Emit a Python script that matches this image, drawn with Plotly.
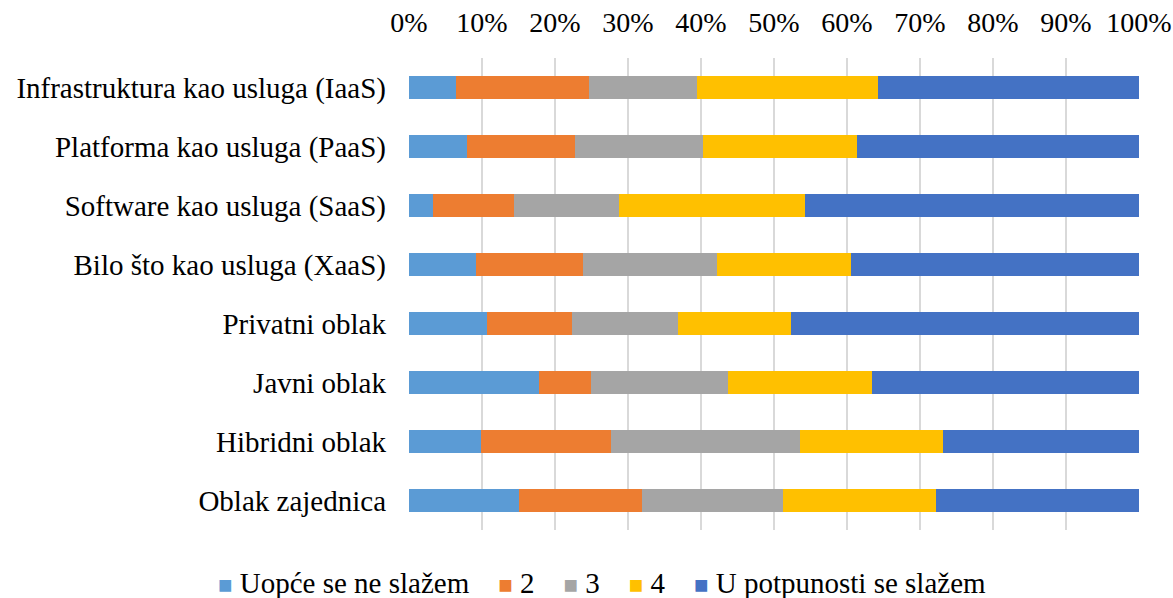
import plotly.graph_objects as go

# Cloud service / deployment models (top to bottom)
categories = [
    "Infrastruktura kao usluga (IaaS)",
    "Platforma kao usluga (PaaS)",
    "Software kao usluga (SaaS)",
    "Bilo što kao usluga (XaaS)",
    "Privatni oblak",
    "Javni oblak",
    "Hibridni oblak",
    "Oblak zajednica",
]

# Share of responses per agreement level (percent)
uopce_se_ne_slazem = [6.4, 7.9, 3.3, 9.2, 10.7, 17.8, 9.8, 15.1]
ocjena_2 = [18.3, 14.8, 11.1, 14.6, 11.6, 7.1, 17.9, 16.8]
ocjena_3 = [14.7, 17.6, 14.4, 18.4, 14.5, 18.8, 25.9, 19.3]
ocjena_4 = [24.8, 21.1, 25.4, 18.3, 15.5, 19.7, 19.6, 21.0]
u_potpunosti_se_slazem = [35.8, 38.6, 45.8, 39.5, 47.7, 36.6, 26.8, 27.8]

series_names = ["Uopće se ne slažem", "2", "3", "4", "U potpunosti se slažem"]
series_values = [uopce_se_ne_slazem, ocjena_2, ocjena_3, ocjena_4, u_potpunosti_se_slazem]
colors = ["#5B9BD5", "#ED7D31", "#A5A5A5", "#FFC000", "#4472C4"]

x_ticks = list(range(0, 101, 10))
x_tick_labels = [f"{t}%" for t in x_ticks]

font_family = "Liberation Serif"
legend_family = "Times New Roman, Liberation Serif, serif"

fig = go.Figure()
for name, vals, col in zip(series_names, series_values, colors):
    fig.add_trace(go.Bar(
        y=categories,
        x=vals,
        name=name,
        orientation="h",
        marker=dict(color=col, line=dict(width=0)),
        showlegend=False,
    ))

# Legend row built as one text line: coloured square + series name
gap = "\u00a0" * 4
legend_text = gap.join(
    f"<span style='color:{col};font-size:24px'>■</span>\u00a0{name}"
    for name, col in zip(series_names, colors)
)

fig.update_layout(
    template="none",
    barmode="stack",
    bargap=0.6,
    width=1173,
    height=598,
    margin=dict(l=409, r=34, t=58, b=68, autoexpand=False),
    paper_bgcolor="white",
    plot_bgcolor="white",
    font=dict(family=font_family, size=29, color="#000000"),
    xaxis=dict(
        side="top",
        range=[0, 100],
        tickvals=x_ticks,
        ticktext=x_tick_labels,
        showgrid=True,
        gridcolor="#D9D9D9",
        gridwidth=1.6,
        zeroline=False,
        showline=False,
        ticks="",
        ticklabelstandoff=19,
        tickfont=dict(family=font_family, size=28),
    ),
    yaxis=dict(
        autorange="reversed",
        showgrid=False,
        showline=False,
        zeroline=False,
        ticks="",
        ticklabelstandoff=22,
        tickfont=dict(family=font_family, size=29),
    ),
    annotations=[
        dict(
            text=legend_text,
            xref="paper",
            yref="paper",
            x=0.265,
            y=-0.112,
            xanchor="center",
            yanchor="middle",
            showarrow=False,
            font=dict(family=legend_family, size=29, color="#000000"),
        )
    ],
)

fig.write_html("out.html")
